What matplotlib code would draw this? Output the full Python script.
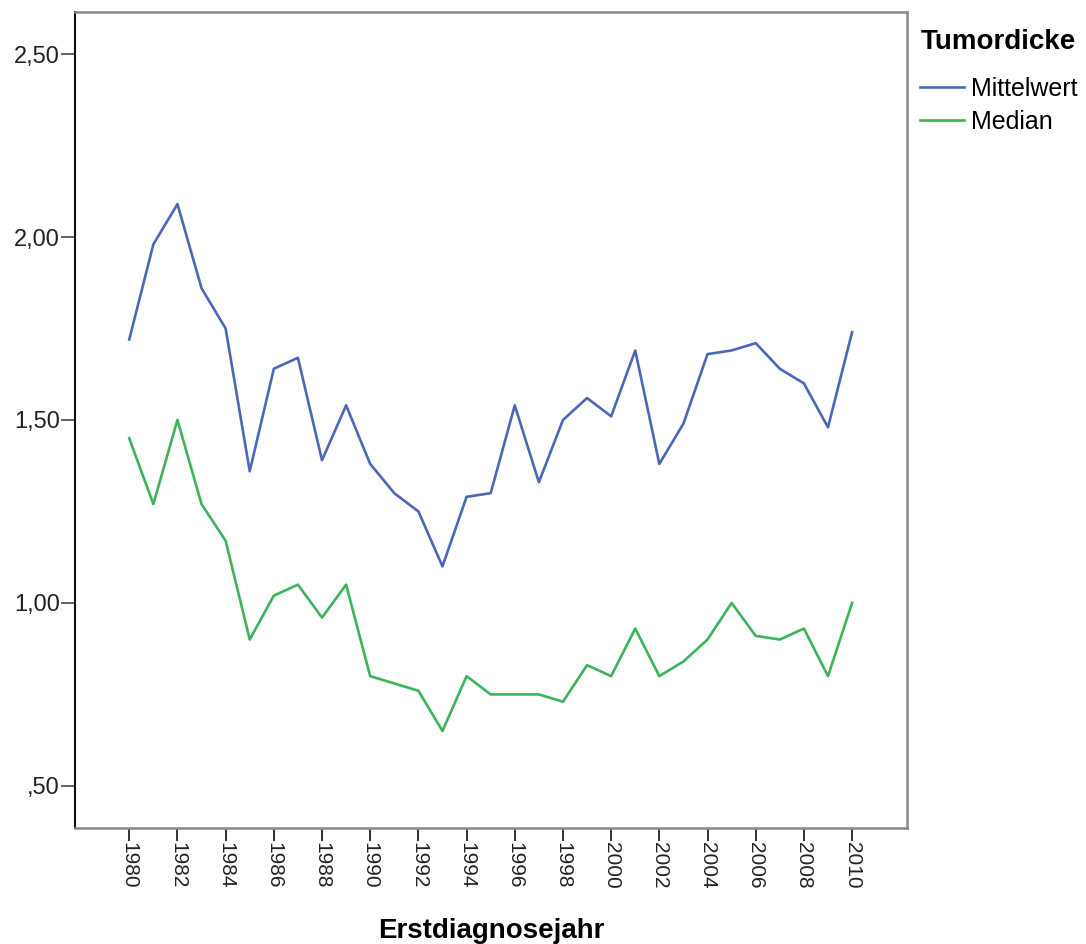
import matplotlib
matplotlib.use('Agg')
import matplotlib.pyplot as plt
from matplotlib.ticker import FuncFormatter

plt.rcParams['font.family'] = ['Liberation Sans', 'DejaVu Sans']

# Erstdiagnosejahr
jahre = list(range(1980, 2011))

# Tumordicke - Mittelwert
mittelwert = [1.72, 1.98, 2.09, 1.86, 1.75, 1.36, 1.64, 1.67, 1.39, 1.54,
              1.38, 1.30, 1.25, 1.10, 1.29, 1.30, 1.54, 1.33, 1.50, 1.56,
              1.51, 1.69, 1.38, 1.49, 1.68, 1.69, 1.71, 1.64, 1.60, 1.48, 1.74]

# Tumordicke - Median
median = [1.45, 1.27, 1.50, 1.27, 1.17, 0.90, 1.02, 1.05, 0.96, 1.05,
          0.80, 0.78, 0.76, 0.65, 0.80, 0.75, 0.75, 0.75, 0.73, 0.83,
          0.80, 0.93, 0.80, 0.84, 0.90, 1.00, 0.91, 0.90, 0.93, 0.80, 1.00]

fig = plt.figure(figsize=(10.86, 9.44), dpi=100)
ax = fig.add_axes([0.0691, 0.1229, 0.7661, 0.8644])

ax.plot(jahre, mittelwert, color='#4a68b5', lw=1.9, label='Mittelwert')
ax.plot(jahre, median, color='#3cb45a', lw=1.9, label='Median')

ax.set_xlim(1977.75, 2012.28)
ax.set_ylim(0.385, 2.615)

ax.set_xticks(range(1980, 2011, 2))
ax.set_xticklabels([str(j) for j in range(1980, 2011, 2)], rotation=-90, fontsize=15)
ax.set_yticks([0.5, 1.0, 1.5, 2.0, 2.5])
ax.yaxis.set_major_formatter(FuncFormatter(lambda v, p: f'{v:.2f}'.replace('.', ',').lstrip('0')))
ax.tick_params(axis='y', labelsize=17, length=10, width=1.3, color='#555555', labelcolor='#222222', pad=1)
ax.tick_params(axis='x', length=9, width=1.3, color='#222222', labelcolor='#222222', pad=1)

ax.spines['left'].set_color('#111111')
ax.spines['left'].set_linewidth(1.5)
for s in ['top', 'right', 'bottom']:
    ax.spines[s].set_color('#888888')
    ax.spines[s].set_linewidth(1.8)

ax.set_xlabel('Erstdiagnosejahr', fontsize=20, fontweight='bold', labelpad=21)

# legend: title as separate text, entries below
fig.text(921 / 1086, 1 - 42 / 944, 'Tumordicke', fontsize=20, fontweight='bold',
         ha='left', va='center')
leg = fig.legend(loc='upper left', bbox_to_anchor=(920 / 1086, 1 - 77 / 944), frameon=False,
                 fontsize=18, handlelength=1.75, handletextpad=0.3,
                 labelspacing=0.36, borderpad=0, borderaxespad=0)

fig.savefig('out.png', dpi=100)
